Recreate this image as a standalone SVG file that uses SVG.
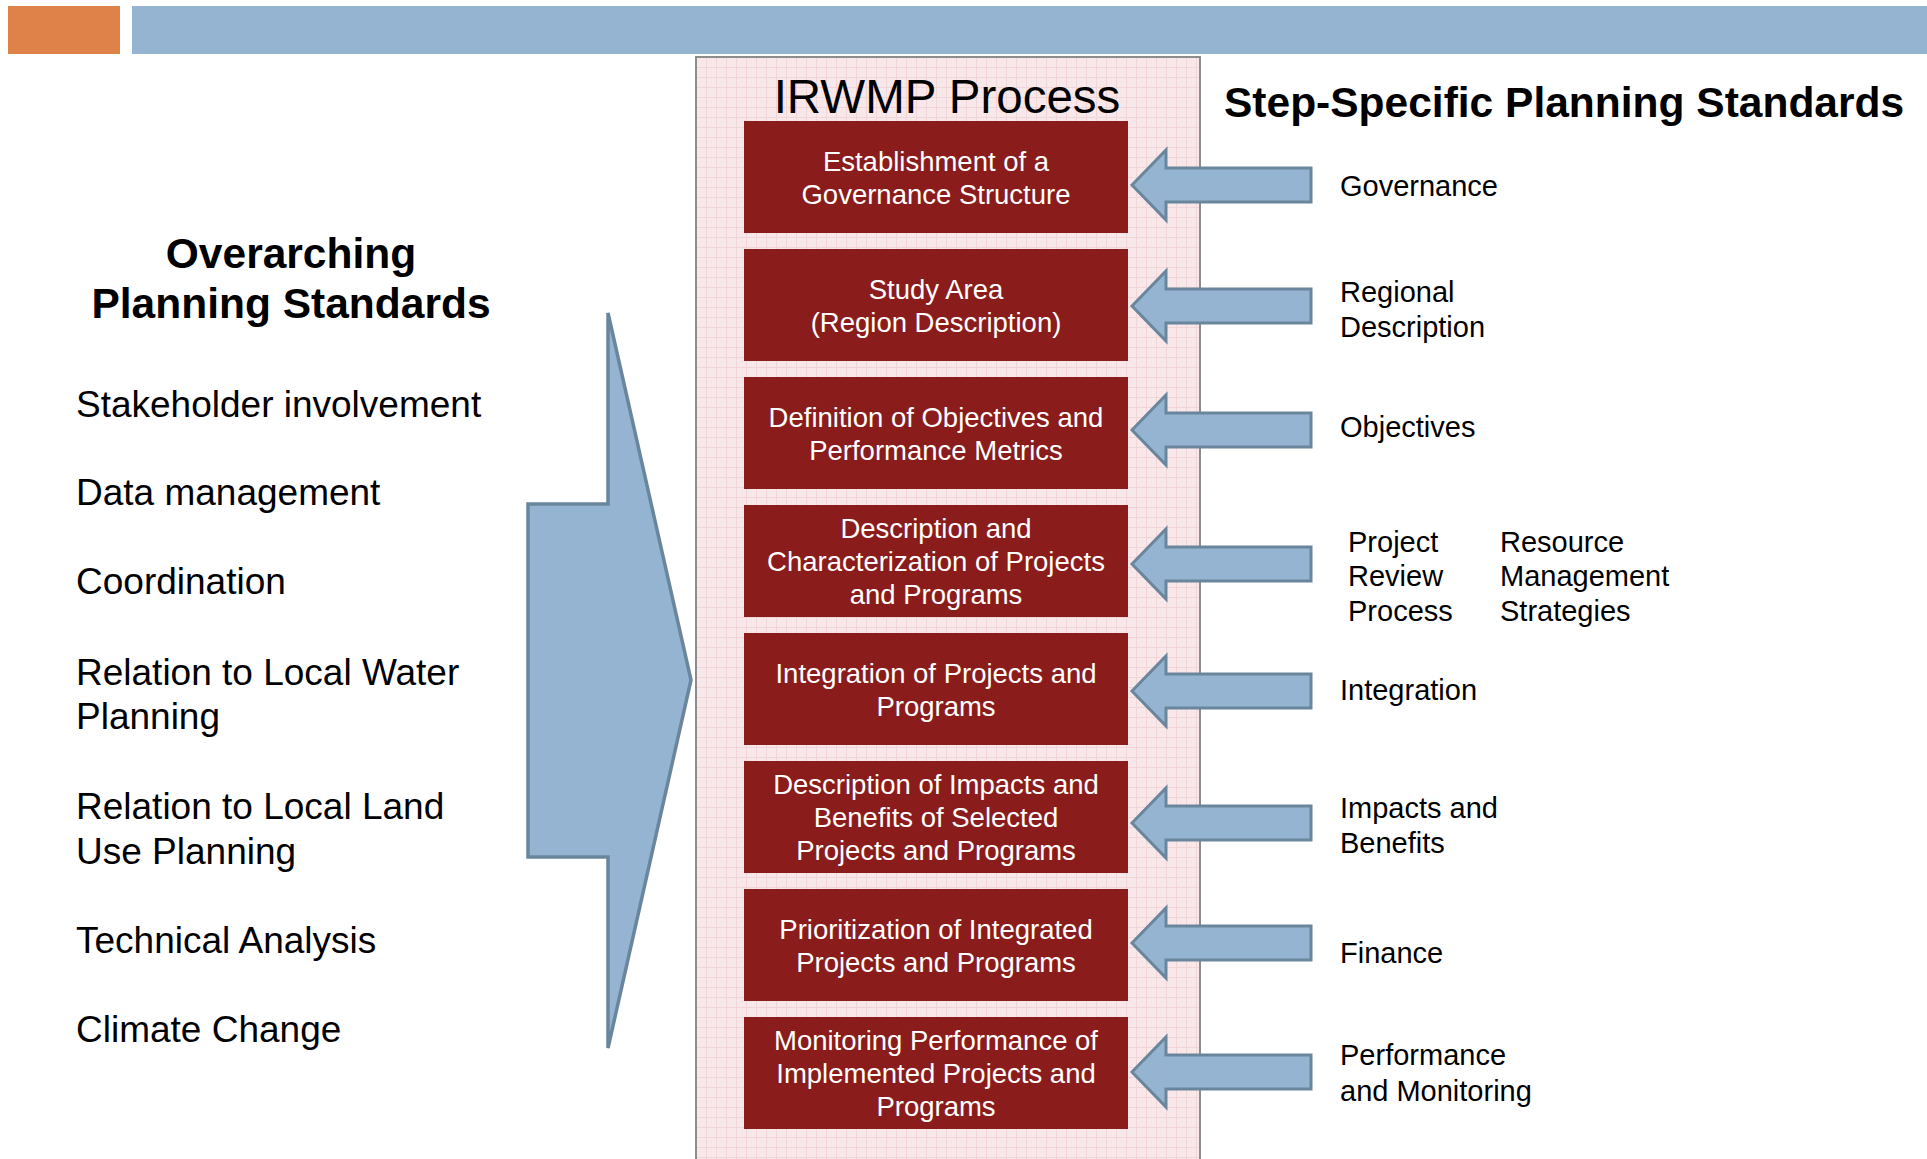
<svg xmlns="http://www.w3.org/2000/svg" width="1927" height="1159" viewBox="0 0 1927 1159">
<style>
text{font-family:"Liberation Sans",Arial,sans-serif;}
.bold{font-weight:bold;font-size:42.5px;fill:#000;}
.list{font-size:37px;fill:#000;}
.lbl{font-size:29px;fill:#000;}
.box rect{fill:#8A1C1B;}
.box text{font-size:27.5px;fill:#fff;text-anchor:middle;}
.sarrow{fill:#94B4D2;stroke:#6A869C;stroke-width:3;stroke-linejoin:miter;}
</style>
<defs>
<pattern id="grid" x="696" y="57" width="10" height="10" patternUnits="userSpaceOnUse">
<rect width="10" height="10" fill="#F8E8E9"/>
<path d="M0 0.5H10M0.5 0V10" stroke="#F0D6D8" stroke-width="1" fill="none"/>
<path d="M5 5h1" stroke="#F2DEE0" stroke-width="1"/>
</pattern>
</defs>
<rect x="0" y="0" width="1927" height="1159" fill="#fff"/>
<g id="header">
<rect x="8" y="6" width="112" height="48" fill="#DE8249"/>
<rect x="132" y="6" width="1795" height="48" fill="#94B4D2"/>
</g>
<g id="process-panel">
<rect x="696" y="57" width="504" height="1110" fill="url(#grid)" stroke="#8C8C8C" stroke-width="2"/>
<text x="947" y="113" font-size="47.5" text-anchor="middle" fill="#000">IRWMP Process</text>
</g>
<g id="overarching">
<text class="bold" x="291" y="268" text-anchor="middle">Overarching</text>
<text class="bold" x="291" y="318" text-anchor="middle">Planning Standards</text>
<text class="list" x="76" y="417">Stakeholder involvement</text>
<text class="list" x="76" y="505">Data management</text>
<text class="list" x="76" y="594">Coordination</text>
<text class="list" x="76" y="685">Relation to Local Water</text>
<text class="list" x="76" y="729">Planning</text>
<text class="list" x="76" y="819">Relation to Local Land</text>
<text class="list" x="76" y="864">Use Planning</text>
<text class="list" x="76" y="953">Technical Analysis</text>
<text class="list" x="76" y="1042">Climate Change</text>
</g>
<g id="big-arrow">
<polygon points="528,504 608,504 608,313 691,680 608,1048 608,857 528,857" fill="#94B4D2" stroke="#6A869C" stroke-width="3.5" stroke-linejoin="miter"/>
</g>
<g id="step-title">
<text class="bold" x="1224" y="117">Step-Specific Planning Standards</text>
</g>
<g id="box1" class="box"><rect x="744" y="121" width="384" height="112"/>
<text x="936" y="170.5">Establishment of a</text><text x="936" y="203.5">Governance Structure</text></g>
<g id="box2" class="box"><rect x="744" y="249" width="384" height="112"/>
<text x="936" y="298.5">Study Area</text><text x="936" y="331.5">(Region Description)</text></g>
<g id="box3" class="box"><rect x="744" y="377" width="384" height="112"/>
<text x="936" y="426.5">Definition of Objectives and</text><text x="936" y="459.5">Performance Metrics</text></g>
<g id="box4" class="box"><rect x="744" y="505" width="384" height="112"/>
<text x="936" y="538">Description and</text><text x="936" y="571">Characterization of Projects</text><text x="936" y="604">and Programs</text></g>
<g id="box5" class="box"><rect x="744" y="633" width="384" height="112"/>
<text x="936" y="682.5">Integration of Projects and</text><text x="936" y="715.5">Programs</text></g>
<g id="box6" class="box"><rect x="744" y="761" width="384" height="112"/>
<text x="936" y="794">Description of Impacts and</text><text x="936" y="827">Benefits of Selected</text><text x="936" y="860">Projects and Programs</text></g>
<g id="box7" class="box"><rect x="744" y="889" width="384" height="112"/>
<text x="936" y="938.5">Prioritization of Integrated</text><text x="936" y="971.5">Projects and Programs</text></g>
<g id="box8" class="box"><rect x="744" y="1017" width="384" height="112"/>
<text x="936" y="1050">Monitoring Performance of</text><text x="936" y="1083">Implemented Projects and</text><text x="936" y="1116">Programs</text></g>
<g id="connectors">
<polygon class="sarrow" transform="translate(0,185)" points="1132,0 1166,-35 1166,-17 1311,-17 1311,17 1166,17 1166,35"/>
<polygon class="sarrow" transform="translate(0,306)" points="1132,0 1166,-35 1166,-17 1311,-17 1311,17 1166,17 1166,35"/>
<polygon class="sarrow" transform="translate(0,430)" points="1132,0 1166,-35 1166,-17 1311,-17 1311,17 1166,17 1166,35"/>
<polygon class="sarrow" transform="translate(0,564)" points="1132,0 1166,-35 1166,-17 1311,-17 1311,17 1166,17 1166,35"/>
<polygon class="sarrow" transform="translate(0,691)" points="1132,0 1166,-35 1166,-17 1311,-17 1311,17 1166,17 1166,35"/>
<polygon class="sarrow" transform="translate(0,823)" points="1132,0 1166,-35 1166,-17 1311,-17 1311,17 1166,17 1166,35"/>
<polygon class="sarrow" transform="translate(0,943)" points="1132,0 1166,-35 1166,-17 1311,-17 1311,17 1166,17 1166,35"/>
<polygon class="sarrow" transform="translate(0,1072)" points="1132,0 1166,-35 1166,-17 1311,-17 1311,17 1166,17 1166,35"/>
</g>
<g id="step-labels">
<text class="lbl" x="1340" y="196">Governance</text>
<text class="lbl" x="1340" y="302">Regional</text>
<text class="lbl" x="1340" y="337">Description</text>
<text class="lbl" x="1340" y="437">Objectives</text>
<text class="lbl" x="1348" y="552">Project</text>
<text class="lbl" x="1348" y="586">Review</text>
<text class="lbl" x="1348" y="621">Process</text>
<text class="lbl" x="1500" y="552">Resource</text>
<text class="lbl" x="1500" y="586">Management</text>
<text class="lbl" x="1500" y="621">Strategies</text>
<text class="lbl" x="1340" y="700">Integration</text>
<text class="lbl" x="1340" y="818">Impacts and</text>
<text class="lbl" x="1340" y="853">Benefits</text>
<text class="lbl" x="1340" y="963">Finance</text>
<text class="lbl" x="1340" y="1065">Performance</text>
<text class="lbl" x="1340" y="1101">and Monitoring</text>
</g>
</svg>
